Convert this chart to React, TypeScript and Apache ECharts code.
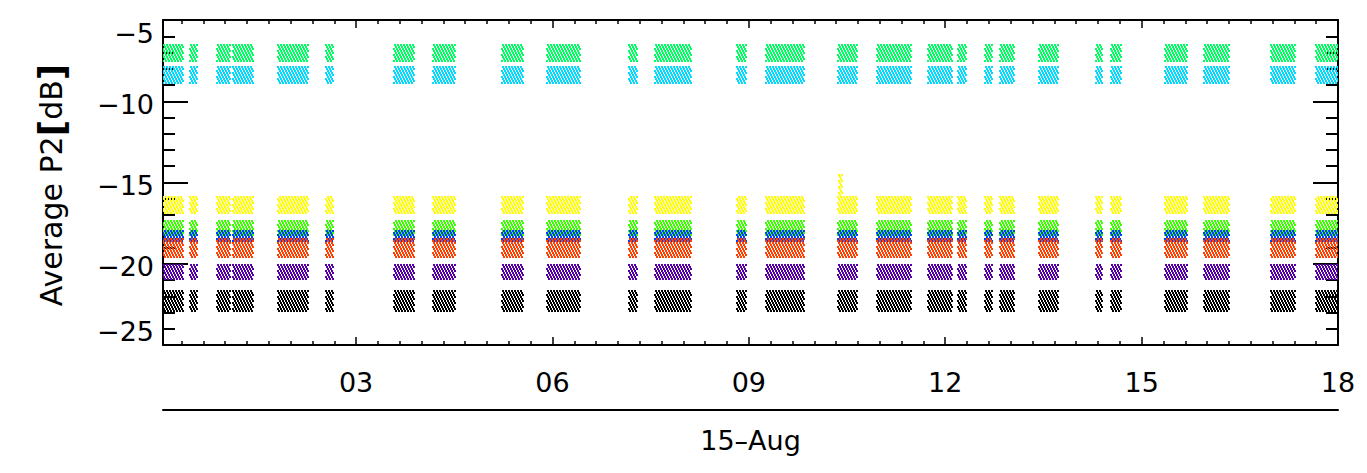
import React, { useEffect, useRef } from "react";
import * as echarts from "echarts";

const clusterStart = [0.0, 0.44, 0.88, 1.12, 1.81, 2.54, 3.56, 4.18, 5.23, 5.9, 7.17, 7.56, 8.82, 9.26, 10.34, 10.95, 11.73, 12.18, 12.6, 12.82, 13.43, 14.3, 14.51, 15.34, 15.96, 16.98, 17.67];
const clusterEnd = [0.36, 0.57, 1.08, 1.43, 2.27, 2.65, 3.89, 4.51, 5.55, 6.42, 7.29, 8.11, 8.95, 9.84, 10.65, 11.47, 12.1, 12.31, 12.72, 13.05, 13.72, 14.4, 14.68, 15.69, 16.33, 17.34, 18.0];

// Value spread (dB) of each channel inside a block
const seriesNames = ["green (upper)", "cyan", "yellow", "green", "blue", "orange", "purple", "black"];
const bandHigh = [-6.5, -7.9, -15.9, -17.3, -17.9, -18.5, -20.0, -21.6];
const bandLow = [-7.5, -8.9, -16.9, -18.2, -18.6, -19.6, -21.0, -22.9];

// extra isolated points: [start, end, high, low, seriesIndex]
const extraRanges = [[10.38, 10.42, -14.5, -15.9, 2]];

// Axis ticks
const xMajorTicks = [3, 6, 9, 12, 15, 18];
const xTickLabels = ["03", "06", "09", "12", "15", "18"];
const yMajorTicks = [-25, -20, -15, -10, -5];

const seriesColors = ["#00ff60", "#00dcff", "#ffff00", "#3cff00", "#0040ff", "#ff4000", "#5800a8", "#000000"];
const seriesPhase = [0, 1, 1, 0, 1, 0, 1, 0];

const X_MIN = 0.05;
const X_MAX = 18;
const FONT = '"DejaVu Sans", sans-serif';

export default function App() {
  const ref = useRef<HTMLDivElement | null>(null);

  useEffect(() => {
    if (!ref.current) return;
    const chart = echarts.init(ref.current, null, { renderer: "svg" });

    const xMinor: number[] = [];
    for (let i = 1; i < 54; i++) if (i % 9 !== 0) xMinor.push(i / 3);
    const yMinor: number[] = [];
    for (let v = -24; v <= -6; v++) if (v % 5 !== 0) yMinor.push(v);

    const lineStyle = { color: "#000", width: 2 };

    const series = seriesNames.map((name, i) => {
      const data: number[][] = clusterStart.map((s, k) => [s, clusterEnd[k], bandHigh[i], bandLow[i]]);
      extraRanges.filter((e) => e[4] === i).forEach((e) => data.push([e[0], e[1], e[2], e[3]]));
      const color = seriesColors[i];
      const ph = seriesPhase[i];
      return {
        type: "custom",
        name,
        silent: true,
        clip: true,
        xAxisIndex: 0,
        yAxisIndex: 0,
        encode: { x: [0, 1], y: [2, 3] },
        data,
        renderItem: (_params: any, api: any) => {
          const a = api.coord([api.value(0), api.value(2)]);
          const b = api.coord([api.value(1), api.value(3)]);
          const x0 = Math.round(Math.min(a[0], b[0]));
          const x1 = Math.max(Math.round(Math.max(a[0], b[0])), x0 + 2);
          const y0 = Math.round(Math.min(a[1], b[1]));
          const y1 = Math.round(Math.max(a[1], b[1]));
          const children: any[] = [];
          // stipple: 2px dots, rows every 2px, 3px pitch, staggered rows
          for (let y = y0 - (y0 % 2); y < y1; y += 2) {
            const row = y / 2;
            const shift = (row + ph) % 3;
            let xs = x0 - (x0 % 3) + shift;
            if (xs > x0 + 2) xs -= 3;
            for (let x = xs; x < x1; x += 3) {
              if (x + 2 <= x0) continue;
              children.push({ type: "rect", shape: { x, y, width: 2, height: 2 }, style: { fill: color } });
            }
          }
          return { type: "group", children };
        },
      };
    });

    const labelText = { fontSize: 27, fontFamily: FONT, color: "#000" };

    const option: any = {
      animation: false,
      backgroundColor: "#fff",
      grid: { left: 163, top: 20, width: 1175, height: 325, containLabel: false },
      xAxis: [
        {
          type: "value", position: "bottom", min: X_MIN, max: X_MAX,
          axisLine: { show: true, onZero: false, lineStyle },
          axisTick: { show: true, inside: true, length: 8, customValues: xMajorTicks, lineStyle: { color: "#000", width: 1.5 } },
          axisLabel: {
            show: true, customValues: xMajorTicks, margin: 24, ...labelText,
            formatter: (v: number) => {
              const k = xMajorTicks.findIndex((t) => Math.abs(t - v) < 1e-6);
              return k >= 0 ? xTickLabels[k] : "";
            },
          },
          splitLine: { show: false },
        },
        {
          type: "value", position: "bottom", min: X_MIN, max: X_MAX,
          axisLine: { show: false, onZero: false },
          axisTick: { show: true, inside: true, length: 4, customValues: xMinor, lineStyle: { color: "#000", width: 1.5 } },
          axisLabel: { show: false }, splitLine: { show: false },
        },
        {
          type: "value", position: "top", min: X_MIN, max: X_MAX,
          axisLine: { show: true, onZero: false, lineStyle },
          axisTick: { show: true, inside: true, length: 8, customValues: xMajorTicks, lineStyle: { color: "#000", width: 1.5 } },
          axisLabel: { show: false }, splitLine: { show: false },
        },
        {
          type: "value", position: "top", min: X_MIN, max: X_MAX,
          axisLine: { show: false, onZero: false },
          axisTick: { show: true, inside: true, length: 4, customValues: xMinor, lineStyle: { color: "#000", width: 1.5 } },
          axisLabel: { show: false }, splitLine: { show: false },
        },
        {
          type: "value", position: "bottom", offset: 65, min: X_MIN, max: X_MAX,
          axisLine: { show: true, onZero: false, lineStyle },
          axisTick: { show: false }, axisLabel: { show: false }, splitLine: { show: false },
          name: "15\u2013Aug", nameLocation: "middle", nameGap: 17,
          nameTextStyle: { ...labelText },
        },
      ],
      yAxis: [
        {
          type: "value", position: "left", min: -25, max: -5, interval: 5,
          axisLine: { show: true, onZero: false, lineStyle },
          axisTick: { show: true, inside: true, length: 25, lineStyle: { color: "#000", width: 2 } },
          axisLabel: {
            show: true, margin: 9,
            formatter: (v: number) => {
              const t = "\u2212" + Math.abs(v);
              if (v === yMajorTicks[yMajorTicks.length - 1]) return "{t|" + t + "}";
              if (v === yMajorTicks[0]) return "{b|" + t + "}";
              return "{m|" + t + "}";
            },
            rich: {
              t: { ...labelText, padding: [26, 0, 0, 0] },
              b: { ...labelText, padding: [0, 0, 28, 0] },
              m: { ...labelText, padding: [6, 0, 0, 0] },
            },
          },
          splitLine: { show: false },
        },
        {
          type: "value", position: "left", min: -25, max: -5,
          axisLine: { show: false, onZero: false },
          axisTick: { show: true, inside: true, length: 12, customValues: yMinor, lineStyle: { color: "#000", width: 2 } },
          axisLabel: { show: false }, splitLine: { show: false },
        },
        {
          type: "value", position: "right", min: -25, max: -5, interval: 5,
          axisLine: { show: true, onZero: false, lineStyle },
          axisTick: { show: true, inside: true, length: 25, lineStyle: { color: "#000", width: 2 } },
          axisLabel: { show: false }, splitLine: { show: false },
        },
        {
          type: "value", position: "right", min: -25, max: -5,
          axisLine: { show: false, onZero: false },
          axisTick: { show: true, inside: true, length: 12, customValues: yMinor, lineStyle: { color: "#000", width: 2 } },
          axisLabel: { show: false }, splitLine: { show: false },
        },
      ],
      graphic: [
        {
          type: "text",
          x: 51,
          y: 185,
          rotation: Math.PI / 2,
          style: {
            text: "{n|Average P2}{k|[}{n|dB}{k|]}",
            align: "center",
            verticalAlign: "middle",
            rich: {
              n: { fontSize: 30, fontFamily: FONT, fill: "#000" },
              k: { fontSize: 36, fontWeight: "bold", fontFamily: FONT, fill: "#000" },
            },
          },
        },
      ],
      series,
    };

    chart.setOption(option);
    return () => chart.dispose();
  }, []);

  return (
    <div
      ref={ref}
      style={{ position: "fixed", left: 0, top: 0, width: 1367, height: 473, background: "#fff" }}
    />
  );
}
